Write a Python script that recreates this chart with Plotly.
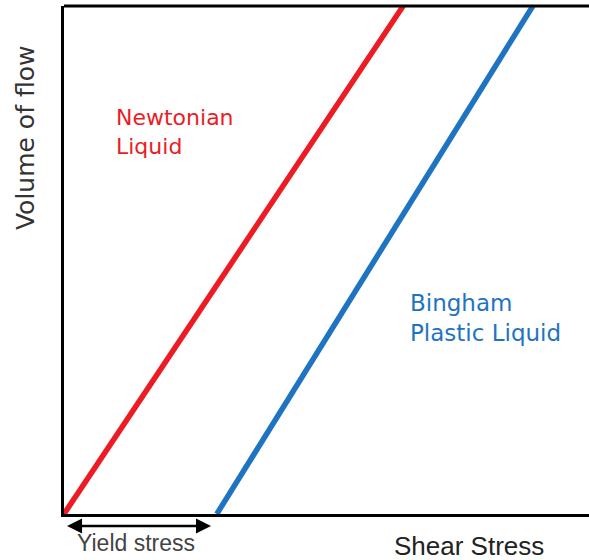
import plotly.graph_objects as go

# Data (abstract units: x 0..10 across plot area, y 0..10)
yield_stress = 2.91
newtonian_x = [0.0, 6.46]
newtonian_y = [0.0, 10.0]
bingham_x = [2.91, 8.93]
bingham_y = [0.0, 10.0]

RED = "#ec1c24"
BLUE = "#1f74c2"
WIDE = "DejaVu Sans, sans-serif"
ARIAL = "Liberation Sans, Arial, sans-serif"

fig = go.Figure()
fig.add_trace(go.Scatter(x=newtonian_x, y=newtonian_y, mode="lines",
                         line=dict(color=RED, width=5.5), showlegend=False, hoverinfo="skip"))
fig.add_trace(go.Scatter(x=bingham_x, y=bingham_y, mode="lines",
                         line=dict(color=BLUE, width=5.5), showlegend=False, hoverinfo="skip"))

fig.update_xaxes(range=[0, 10], showgrid=False, zeroline=False, showticklabels=False,
                 ticks="", showline=True, linecolor="black", linewidth=3)
fig.update_yaxes(range=[0, 10], showgrid=False, zeroline=False, showticklabels=False,
                 ticks="", showline=True, linecolor="black", linewidth=3)

# top border
fig.add_shape(type="line", xref="paper", yref="paper", x0=0, x1=1, y0=1, y1=1,
              line=dict(color="black", width=3))

fig.add_annotation(x=0.95, y=7.52, xref="x", yref="y", xanchor="left", yanchor="middle",
                   text="Newtonian<br>Liquid", showarrow=False, align="left",
                   font=dict(family=WIDE, size=22, color=RED))
fig.add_annotation(x=6.55, y=3.86, xref="x", yref="y", xanchor="left", yanchor="middle",
                   text="Bingham<br>Plastic Liquid", showarrow=False, align="left",
                   font=dict(family=WIDE, size=23, color=BLUE))

# Yield stress double arrow (below the axis, paper y)
fig.add_annotation(x=yield_stress - 0.11, y=-0.0236, xref="x", yref="paper",
                   ax=-(yield_stress - 0.14) * 52.5, ay=0, axref="pixel", ayref="pixel",
                   text="", showarrow=True, arrowhead=2,
                   arrowside="end+start", arrowsize=1.2, arrowwidth=2.5, arrowcolor="black")
fig.add_annotation(x=1.37, y=-0.0571, xref="x", yref="paper", yanchor="middle",
                   text="Yield stress", showarrow=False,
                   font=dict(family=ARIAL, size=23, color="#444444"))
fig.add_annotation(x=7.71, y=-0.063, xref="x", yref="paper", yanchor="middle",
                   text="Shear Stress", showarrow=False,
                   font=dict(family=ARIAL, size=26, color="#222222"))
fig.add_annotation(xref="paper", yref="y", x=-0.0743, y=7.40, text="Volume of flow",
                   textangle=-90, showarrow=False, xanchor="center", yanchor="middle",
                   font=dict(family=WIDE, size=25, color="#333333"))

fig.update_layout(width=589, height=560, margin=dict(l=64, r=0, t=6, b=46),
                  plot_bgcolor="white", paper_bgcolor="white")

fig.write_html("out.html", config={"displayModeBar": False},
               post_script="document.body.style.margin='0';document.body.style.overflow='hidden';")
